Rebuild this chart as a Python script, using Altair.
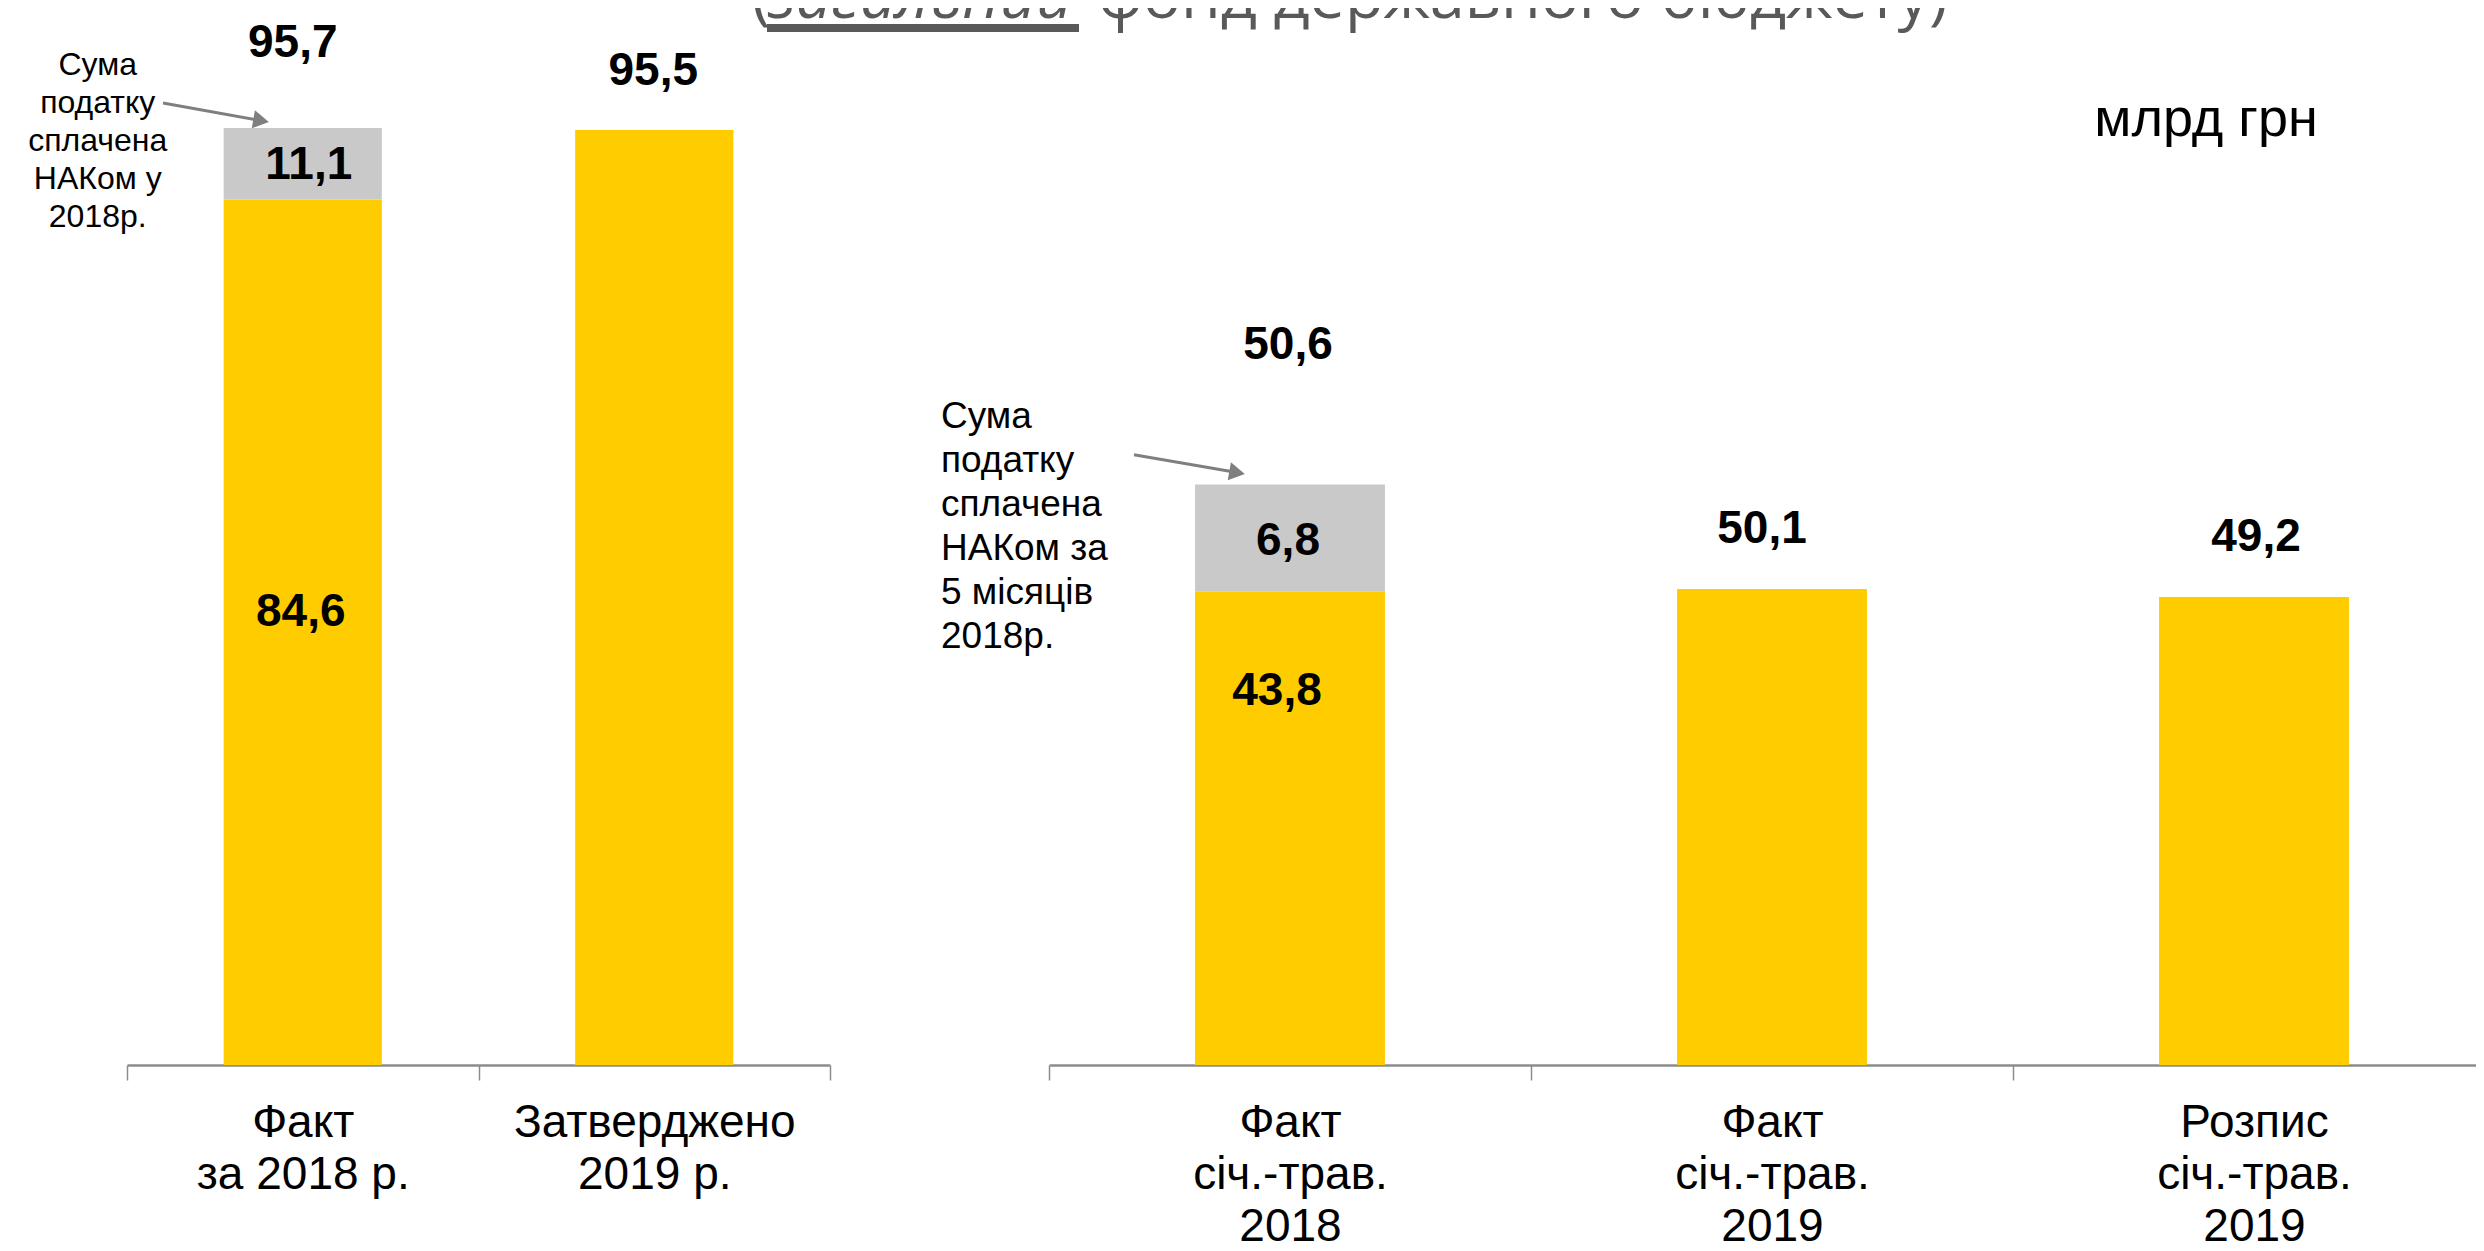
import altair as alt
import pandas as pd

# ---------------- data ----------------
# left panel: year totals (segment heights as drawn, labels as printed)
left_categories = ["Факт|за 2018 р.", "Затверджено|2019 р."]
left_base = [88.4, 95.5]          # yellow part
left_nak = [7.3, 0.0]             # grey part (NAK)
left_total_text = ["95,7", "95,5"]
left_nak_text = ["11,1", ""]
left_base_text = ["84,6", ""]

# right panel: January-May
right_categories = ["Факт|січ.-трав.|2018", "Факт|січ.-трав.|2019", "Розпис|січ.-трав.|2019"]
right_base = [41.3, 41.5, 40.8]
right_nak = [9.3, 0.0, 0.0]
right_total_text = ["50,6", "50,1", "49,2"]
right_nak_text = ["6,8", "", ""]
right_base_text = ["43,8", "", ""]

left_note = "Сума|податку|сплачена|НАКом у|2018р."
right_note = "Сума|податку|сплачена|НАКом за|5 місяців|2018р."
unit_text = "млрд грн"
title_open = "("
title_em = "загальний"
title_rest = "фонд державного бюджету)"

# ---------------- styles ----------------
YELLOW = "#FFCC00"
GREY = "#C9C9C9"
AXIS = "#8C8C8C"
ARROW = "#7F7F7F"
TITLE = "#595959"
FONT = "Liberation Sans"
W, H = 2468, 1057


def make_axis():
    return alt.Axis(
        orient="bottom", title=None, labelAngle=0,
        labelExpr="split(datum.label, '|')",
        labelFont=FONT, labelFontSize=46, labelColor="#000000",
        labelLineHeight=52, labelPadding=20, labelOverlap=False, labelLimit=0,
        tickBand="extent", tickSize=15, tickColor=AXIS, tickWidth=1.5,
        domainColor=AXIS, domainWidth=2.5, grid=False,
    )


def panel(cats, base, nak, total_t, nak_t, base_t, x_range, y_max, band,
          offsets, note, note_style, arrow):
    xscale = alt.Scale(domain=cats, range=x_range, paddingInner=0, paddingOuter=0)
    yscale = alt.Scale(domain=[0, y_max], nice=False, zero=True)

    def X(**kw):
        return alt.X("cat:N", sort=cats, scale=xscale, axis=make_axis(), **kw)

    rows = []
    for c, b, n in zip(cats, base, nak):
        rows.append({"cat": c, "seg": "base", "y0": 0.0, "y1": b})
        if n > 0:
            rows.append({"cat": c, "seg": "nak", "y0": b, "y1": b + n})
    bars = alt.Chart(pd.DataFrame(rows)).mark_bar(
        width=alt.RelativeBandSize(band)
    ).encode(
        x=X(),
        y=alt.Y("y0:Q", scale=yscale, axis=None),
        y2="y1:Q",
        color=alt.Color("seg:N", scale=alt.Scale(domain=["base", "nak"], range=[YELLOW, GREY]), legend=None),
    )
    layers = [bars]

    def label(i, kind, v, text):
        if not text:
            return
        dx, dy = offsets[(kind, i)]
        df = pd.DataFrame({"cat": [cats[i]], "v": [v], "t": [text]})
        layers.append(
            alt.Chart(df).mark_text(
                font=FONT, fontSize=46, fontWeight="bold", color="#000000",
                baseline="middle", align="center", dx=dx, dy=dy,
            ).encode(x=X(), y=alt.Y("v:Q", scale=yscale, axis=None), text="t:N")
        )

    for i in range(len(cats)):
        tot = base[i] + nak[i]
        label(i, "total", tot, total_t[i])
        label(i, "nak", base[i] + nak[i] / 2, nak_t[i])
        label(i, "base", base[i], base_t[i])

    # note text (first line placed at the anchor)
    ndx, ndy, nsize, nlh, nalign = note_style
    ndf = pd.DataFrame({"cat": [cats[0]], "v": [base[0] + nak[0]], "t": [note]})
    layers.append(
        alt.Chart(ndf).mark_text(
            font=FONT, fontSize=nsize, lineHeight=nlh, lineBreak="|", color="#000000",
            baseline="middle", align=nalign, dx=ndx, dy=ndy,
        ).encode(x=X(), y=alt.Y("v:Q", scale=yscale, axis=None), text="t:N")
    )

    # arrow
    a0, a1, ya, yb, ang = arrow
    adf = pd.DataFrame({"cat": [cats[0]], "ya": [ya], "yb": [yb]})
    layers.append(
        alt.Chart(adf).mark_rule(color=ARROW, strokeWidth=3).encode(
            x=X(bandPosition=a0),
            x2=alt.X2("cat", bandPosition=a1),
            y=alt.Y("ya:Q", scale=yscale, axis=None),
            y2="yb:Q",
        )
    )
    layers.append(
        alt.Chart(adf).mark_point(shape="triangle-right", filled=True, color=ARROW,
                                  opacity=1, size=330, angle=ang).encode(
            x=X(bandPosition=a1),
            y=alt.Y("yb:Q", scale=yscale, axis=None),
        )
    )
    return alt.layer(*layers)


left = panel(
    left_categories, left_base, left_nak, left_total_text, left_nak_text, left_base_text,
    x_range=[119, 822], y_max=H / 9.791, band=0.45,
    offsets={("total", 0): (-10, -85), ("total", 1): (-1, -59),
             ("nak", 0): (6, 1), ("base", 0): (-2, 413)},
    note=left_note, note_style=(-205, -63, 32, 38, "center"),
    arrow=(0.1024, 0.3815, 98.25, 96.45, 10),
)

right = panel(
    right_categories, right_base, right_nak, right_total_text, right_nak_text, right_base_text,
    x_range=[1041, 2487], y_max=H / 11.47, band=0.394,
    offsets={("total", 0): (-2, -140), ("total", 1): (-10, -60), ("total", 2): (2, -60),
             ("nak", 0): (-2, 3), ("base", 0): (-13, 100)},
    note=right_note, note_style=(-349, -68, 37, 44, "left"),
    arrow=(0.1763, 0.3902, 53.2, 51.65, 10),
)

one = pd.DataFrame({"k": [0]})
TSIZE = 63
t_open = alt.Chart(one).mark_text(font="Open Sans", fontSize=TSIZE, color=TITLE, align="left",
                                  baseline="alphabetic").encode(
    x=alt.value(744), y=alt.value(10), text=alt.value(title_open))
t_em = alt.Chart(one).mark_text(font="Open Sans", fontSize=TSIZE, fontStyle="italic", color=TITLE,
                                align="left", baseline="alphabetic").encode(
    x=alt.value(760), y=alt.value(10), text=alt.value(title_em))
t_rest = alt.Chart(one).mark_text(font="Open Sans", fontSize=TSIZE, color=TITLE, align="left",
                                  baseline="alphabetic").encode(
    x=alt.value(1090), y=alt.value(10), text=alt.value(title_rest))
t_under = alt.Chart(one).mark_rule(color=TITLE, strokeWidth=8).encode(
    x=alt.value(759), x2=alt.value(1071), y=alt.value(20))
unit = alt.Chart(one).mark_text(font=FONT, fontSize=54, color="#000000", align="center",
                                baseline="alphabetic").encode(
    x=alt.value(2198), y=alt.value(128), text=alt.value(unit_text))

chart = alt.layer(left, right, t_open, t_em, t_rest, t_under, unit).resolve_scale(
    x="independent", y="independent"
).properties(
    width=W, height=H,
    padding={"left": 0, "top": 0, "right": 0, "bottom": 186},
    autosize=alt.AutoSizeParams(type="none"),
).configure_view(stroke=None)

chart.save("out.html", embed_options={"renderer": "svg", "actions": False})
